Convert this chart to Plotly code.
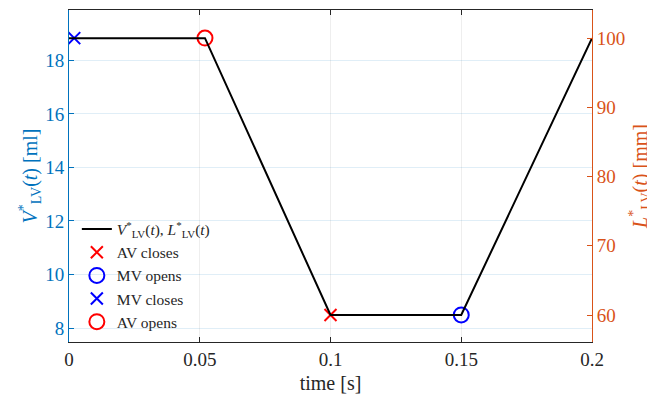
import plotly.graph_objects as go

# Data
t = [0.0, 0.052, 0.1, 0.15, 0.2]
L_lv = [100, 100, 60, 60, 100]          # mm

av_closes_t, av_closes_v = [0.1], [8.49]
mv_opens_t, mv_opens_v = [0.15], [8.49]
mv_closes_t, mv_closes_v = [0.002], [18.83]
av_opens_t, av_opens_v = [0.052], [18.83]

x_ticks = [0, 0.05, 0.1, 0.15, 0.2]
x_ticklabels = ["0", "0.05", "0.1", "0.15", "0.2"]
yl_ticks = [8, 10, 12, 14, 16, 18]
yr_ticks = [60, 70, 80, 90, 100]

BLUE = "#0072BD"
ORANGE = "#D95319"
DARK = "#262626"
FONT = "Liberation Serif"

fig = go.Figure()
fig.add_trace(go.Scatter(
    x=t, y=L_lv, mode="lines", yaxis="y2",
    line=dict(color="black", width=2),
    name="<i>V</i><sup>*</sup><sub>LV</sub>(<i>t</i>), <i>L</i><sup>*</sup><sub>LV</sub>(<i>t</i>)"))
fig.add_trace(go.Scatter(
    x=av_closes_t, y=av_closes_v, mode="markers", name="AV closes",
    marker=dict(symbol="x-thin-open", size=12, line=dict(color="red", width=2), color="red")))
fig.add_trace(go.Scatter(
    x=mv_opens_t, y=mv_opens_v, mode="markers", name="MV opens",
    marker=dict(symbol="circle-open", size=15, line=dict(color="blue", width=2), color="blue")))
fig.add_trace(go.Scatter(
    x=mv_closes_t, y=mv_closes_v, mode="markers", name="MV closes",
    marker=dict(symbol="x-thin-open", size=12, line=dict(color="blue", width=2), color="blue")))
fig.add_trace(go.Scatter(
    x=av_opens_t, y=av_opens_v, mode="markers", name="AV opens",
    marker=dict(symbol="circle-open", size=15, line=dict(color="red", width=2), color="red")))

fig.update_layout(
    width=647, height=397,
    margin=dict(l=61, r=63, t=2, b=63),
    paper_bgcolor="white", plot_bgcolor="white",
    font=dict(family=FONT, size=19, color=DARK),
    xaxis=dict(
        range=[0, 0.2], tickvals=x_ticks, ticktext=x_ticklabels, automargin=False,
        showline=True, linecolor=DARK, linewidth=1, mirror="ticks",
        ticks="inside", ticklen=5, tickcolor=DARK,
        showgrid=True, gridcolor="rgba(38,38,38,0.08)", zeroline=False,
        title=dict(text="time [s]", font=dict(size=20, color=DARK), standoff=7),
        tickfont=dict(size=19, color=DARK)),
    yaxis=dict(
        range=[7.48, 19.88], tickvals=yl_ticks, automargin=False,
        showline=True, linecolor=BLUE, linewidth=1,
        ticks="inside", ticklen=5, tickcolor=BLUE,
        showgrid=True, gridcolor="rgba(0,114,189,0.12)", zeroline=False,
        tickfont=dict(size=19, color=BLUE),
        title=dict(text="<i>V</i><sup>*</sup><sub>LV</sub>(<i>t</i>) [ml]",
                   font=dict(size=20, color=BLUE), standoff=2)),
    yaxis2=dict(
        range=[56.1, 104.07], tickvals=yr_ticks, overlaying="y", side="right",
        automargin=False,
        showline=True, linecolor=ORANGE, linewidth=1,
        ticks="inside", ticklen=5, tickcolor=ORANGE,
        showgrid=False, zeroline=False,
        tickfont=dict(size=19, color=ORANGE),
        title=dict(text="<i>L</i><sup>*</sup><sub>LV</sub>(<i>t</i>) [mm]",
                   font=dict(size=20, color=ORANGE), standoff=8)),
    legend=dict(x=0.015, y=0.39, xanchor="left", yanchor="top",
                bgcolor="rgba(0,0,0,0)", borderwidth=0,
                font=dict(size=15.5, color=DARK), tracegroupgap=0, itemwidth=30),
    showlegend=True,
)

fig.write_html("out.html")
